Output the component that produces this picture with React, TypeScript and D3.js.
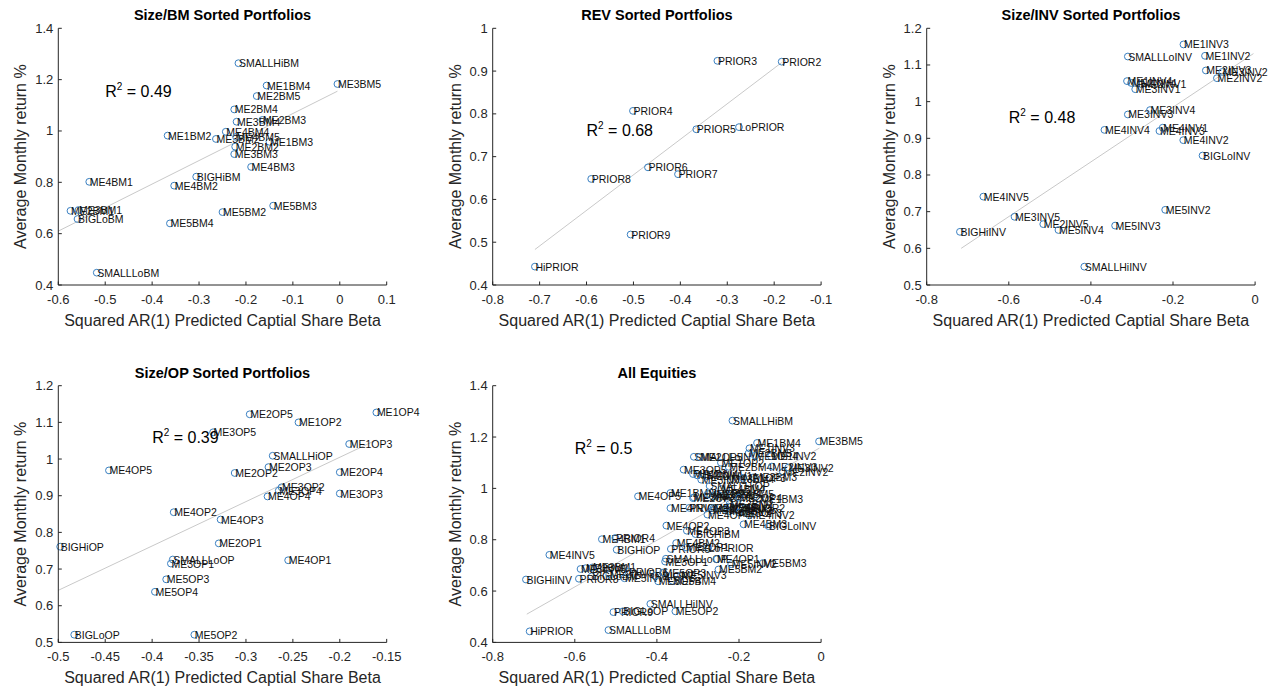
import React from 'react';
import * as d3 from 'd3';

// ---- Size/BM sorted portfolios ----
const bmNames = ['SMALLLoBM', 'ME1BM2', 'ME1BM3', 'ME1BM4', 'SMALLHiBM', 'ME2BM1', 'ME2BM2', 'ME2BM3', 'ME2BM4', 'ME2BM5', 'ME3BM1', 'ME3BM2', 'ME3BM3', 'ME3BM4', 'ME3BM5', 'ME4BM1', 'ME4BM2', 'ME4BM3', 'ME4BM4', 'ME4BM5', 'BIGLoBM', 'ME5BM2', 'ME5BM3', 'ME5BM4', 'BIGHiBM'];
const bmBeta = [-0.518, -0.367, -0.15, -0.156, -0.216, -0.574, -0.223, -0.165, -0.225, -0.177, -0.557, -0.264, -0.225, -0.22, -0.005, -0.534, -0.353, -0.189, -0.243, -0.221, -0.559, -0.25, -0.142, -0.362, -0.306];
const bmReturn = [0.448, 0.982, 0.958, 1.177, 1.264, 0.689, 0.939, 1.043, 1.084, 1.136, 0.692, 0.969, 0.91, 1.036, 1.183, 0.802, 0.787, 0.86, 0.997, 0.977, 0.657, 0.684, 0.709, 0.64, 0.822];
const bmFitX = [-0.6, -0.005];
const bmFitY = [0.61, 1.155];
const bmR2 = 0.49;

// ---- Short-term reversal sorted portfolios ----
const revNames = ['LoPRIOR', 'PRIOR2', 'PRIOR3', 'PRIOR4', 'PRIOR5', 'PRIOR6', 'PRIOR7', 'PRIOR8', 'PRIOR9', 'HiPRIOR'];
const revBeta = [-0.275, -0.184, -0.321, -0.501, -0.366, -0.469, -0.405, -0.59, -0.506, -0.71];
const revReturn = [0.769, 0.922, 0.924, 0.807, 0.764, 0.675, 0.659, 0.648, 0.518, 0.443];
const revFitX = [-0.71, -0.184];
const revFitY = [0.483, 0.92];
const revR2 = 0.68;

// ---- Size/INV sorted portfolios ----
const invNames = ['SMALLLoINV', 'ME1INV2', 'ME1INV3', 'ME1INV4', 'SMALLHiINV', 'ME2INV1', 'ME2INV2', 'ME2INV3', 'ME2INV4', 'ME2INV5', 'ME3INV1', 'ME3INV2', 'ME3INV3', 'ME3INV4', 'ME3INV5', 'ME4INV1', 'ME4INV2', 'ME4INV3', 'ME4INV4', 'ME4INV5', 'BIGLoINV', 'ME5INV2', 'ME5INV3', 'ME5INV4', 'BIGHiINV'];
const invBeta = [-0.31, -0.122, -0.1745, -0.312, -0.416, -0.278, -0.093, -0.12, -0.302, -0.516, -0.292, -0.08, -0.31, -0.256, -0.586, -0.225, -0.175, -0.233, -0.367, -0.662, -0.128, -0.219, -0.341, -0.479, -0.719];
const invReturn = [1.123, 1.125, 1.156, 1.056, 0.55, 1.048, 1.064, 1.085, 1.051, 0.666, 1.034, 1.081, 0.965, 0.977, 0.686, 0.929, 0.895, 0.92, 0.923, 0.741, 0.853, 0.705, 0.662, 0.65, 0.645];
const invFitX = [-0.716, -0.004];
const invFitY = [0.6, 1.131];
const invR2 = 0.48;

// ---- Size/OP sorted portfolios ----
const opNames = ['SMALLLoOP', 'ME1OP2', 'ME1OP3', 'ME1OP4', 'SMALLHiOP', 'ME2OP1', 'ME2OP2', 'ME2OP3', 'ME2OP4', 'ME2OP5', 'ME3OP1', 'ME3OP2', 'ME3OP3', 'ME3OP4', 'ME3OP5', 'ME4OP1', 'ME4OP2', 'ME4OP3', 'ME4OP4', 'ME4OP5', 'BIGLoOP', 'ME5OP2', 'ME5OP3', 'ME5OP4', 'BIGHiOP'];
const opBeta = [-0.378, -0.244, -0.19, -0.161, -0.2715, -0.329, -0.312, -0.276, -0.2, -0.296, -0.38, -0.262, -0.2, -0.265, -0.335, -0.255, -0.377, -0.327, -0.277, -0.446, -0.483, -0.355, -0.385, -0.397, -0.498];
const opReturn = [0.726, 1.1, 1.041, 1.127, 1.009, 0.77, 0.962, 0.978, 0.964, 1.122, 0.715, 0.923, 0.906, 0.914, 1.073, 0.724, 0.855, 0.835, 0.898, 0.969, 0.521, 0.521, 0.672, 0.638, 0.761];
const opFitX = [-0.5, -0.161];
const opFitY = [0.642, 1.052];
const opR2 = 0.39;

// ---- All equities pooled ----
const allNames = [...bmNames, ...revNames, ...invNames, ...opNames];
const allBeta = [...bmBeta, ...revBeta, ...invBeta, ...opBeta];
const allReturn = [...bmReturn, ...revReturn, ...invReturn, ...opReturn];
const allFitX = [-0.717, -0.004];
const allFitY = [0.51, 1.157];
const allR2 = 0.5;

// Axis ticks
const ticksX1 = [-0.6, -0.5, -0.4, -0.3, -0.2, -0.1, 0, 0.1];
const ticksY1 = [0.4, 0.6, 0.8, 1, 1.2, 1.4];
const ticksX2 = [-0.8, -0.7, -0.6, -0.5, -0.4, -0.3, -0.2, -0.1];
const ticksY2 = [0.4, 0.5, 0.6, 0.7, 0.8, 0.9, 1];
const ticksX3 = [-0.8, -0.6, -0.4, -0.2, 0];
const ticksY3 = [0.5, 0.6, 0.7, 0.8, 0.9, 1, 1.1, 1.2];
const ticksX4 = [-0.5, -0.45, -0.4, -0.35, -0.3, -0.25, -0.2, -0.15];
const ticksY4 = [0.5, 0.6, 0.7, 0.8, 0.9, 1, 1.1, 1.2];
const ticksX5 = [-0.8, -0.6, -0.4, -0.2, 0];
const ticksY5 = [0.4, 0.6, 0.8, 1, 1.2, 1.4];

const xLabel = 'Squared AR(1) Predicted Captial Share Beta';
const yLabel = 'Average Monthly return %';

const FONT = '"Liberation Sans", Arial, Helvetica, sans-serif';
const AXIS = '#262626';
const MARKER = '#3a80c2';

type PanelProps = {
  title: string;
  names: string[];
  xs: number[];
  ys: number[];
  fitX: number[];
  fitY: number[];
  r2: number;
  r2At: [number, number];
  xTicks: number[];
  yTicks: number[];
  left: number;
  top: number;
  width: number;
  height: number;
};

const fmt = (v: number) => String(Math.round(v * 100) / 100);

function Panel(p: PanelProps) {
  const x = d3.scaleLinear().domain([p.xTicks[0], p.xTicks[p.xTicks.length - 1]]).range([p.left, p.left + p.width]);
  const y = d3.scaleLinear().domain([p.yTicks[0], p.yTicks[p.yTicks.length - 1]]).range([p.top + p.height, p.top]);
  const bottom = p.top + p.height;
  const fit = d3.line<number>().x((_, i) => x(p.fitX[i])).y((_, i) => y(p.fitY[i]));
  return (
    <g fontFamily={FONT}>
      <text x={p.left + p.width / 2} y={p.top - 8} textAnchor="middle" fontSize={14.5} fontWeight="bold" fill="#000">
        {p.title}
      </text>
      <path d={fit(p.fitX) || ''} stroke="#c9c9c9" strokeWidth={1} fill="none" />
      <g>
        {p.names.map((n, i) => (
          <g key={n + i}>
            <circle cx={x(p.xs[i])} cy={y(p.ys[i])} r={3.4} fill="none" stroke={MARKER} strokeWidth={1} />
            <text x={x(p.xs[i]) + 0.5} y={y(p.ys[i]) + 4} fontSize={10.5} fill="#111">
              {n}
            </text>
          </g>
        ))}
      </g>
      <text x={x(p.r2At[0])} y={y(p.r2At[1]) + 5.5} fontSize={16} fill="#000">
        R<tspan fontSize={10} dy={-7}>2</tspan>
        <tspan dy={7}>{` = ${p.r2}`}</tspan>
      </text>
      {/* axes */}
      <line x1={p.left} x2={p.left + p.width} y1={bottom} y2={bottom} stroke={AXIS} strokeWidth={1} />
      <line x1={p.left} x2={p.left} y1={p.top} y2={bottom} stroke={AXIS} strokeWidth={1} />
      {p.xTicks.map((t) => (
        <g key={'x' + t}>
          <line x1={x(t)} x2={x(t)} y1={bottom} y2={bottom - 3.5} stroke={AXIS} strokeWidth={1} />
          <text x={x(t)} y={bottom + 19} textAnchor="middle" fontSize={13} fill={AXIS}>
            {fmt(t)}
          </text>
        </g>
      ))}
      {p.yTicks.map((t) => (
        <g key={'y' + t}>
          <line x1={p.left} x2={p.left + 3.5} y1={y(t)} y2={y(t)} stroke={AXIS} strokeWidth={1} />
          <text x={p.left - 5} y={y(t) + 4.5} textAnchor="end" fontSize={13} fill={AXIS}>
            {fmt(t)}
          </text>
        </g>
      ))}
      <text x={p.left + p.width / 2} y={bottom + 41} textAnchor="middle" fontSize={16} fill={AXIS}>
        {xLabel}
      </text>
      <text
        transform={`translate(${p.left - 32},${p.top + p.height / 2}) rotate(-90)`}
        textAnchor="middle"
        fontSize={16}
        fill={AXIS}
      >
        {yLabel}
      </text>
    </g>
  );
}

export default function App() {
  const W = 328.4;
  const H = 256.7;
  const topRow = 28.3;
  const botRow = 385.7;
  return (
    <svg width={1276} height={690} style={{ position: 'absolute', left: 0, top: 0, background: '#fff' }}>
      <rect width={1276} height={690} fill="#fff" />
      <Panel title="Size/BM Sorted Portfolios" names={bmNames} xs={bmBeta} ys={bmReturn} fitX={bmFitX} fitY={bmFitY} r2={bmR2} r2At={[-0.5, 1.155]} xTicks={ticksX1} yTicks={ticksY1} left={58.3} top={topRow} width={W} height={H} />
      <Panel title="REV Sorted Portfolios" names={revNames} xs={revBeta} ys={revReturn} fitX={revFitX} fitY={revFitY} r2={revR2} r2At={[-0.6, 0.761]} xTicks={ticksX2} yTicks={ticksY2} left={492.7} top={topRow} width={W} height={H} />
      <Panel title="Size/INV Sorted Portfolios" names={invNames} xs={invBeta} ys={invReturn} fitX={invFitX} fitY={invFitY} r2={invR2} r2At={[-0.6, 0.958]} xTicks={ticksX3} yTicks={ticksY3} left={926.7} top={topRow} width={W} height={H} />
      <Panel title="Size/OP Sorted Portfolios" names={opNames} xs={opBeta} ys={opReturn} fitX={opFitX} fitY={opFitY} r2={opR2} r2At={[-0.4, 1.058]} xTicks={ticksX4} yTicks={ticksY4} left={58.3} top={botRow} width={W} height={H} />
      <Panel title="All Equities" names={allNames} xs={allBeta} ys={allReturn} fitX={allFitX} fitY={allFitY} r2={allR2} r2At={[-0.6, 1.154]} xTicks={ticksX5} yTicks={ticksY5} left={492.7} top={botRow} width={W} height={H} />
    </svg>
  );
}
